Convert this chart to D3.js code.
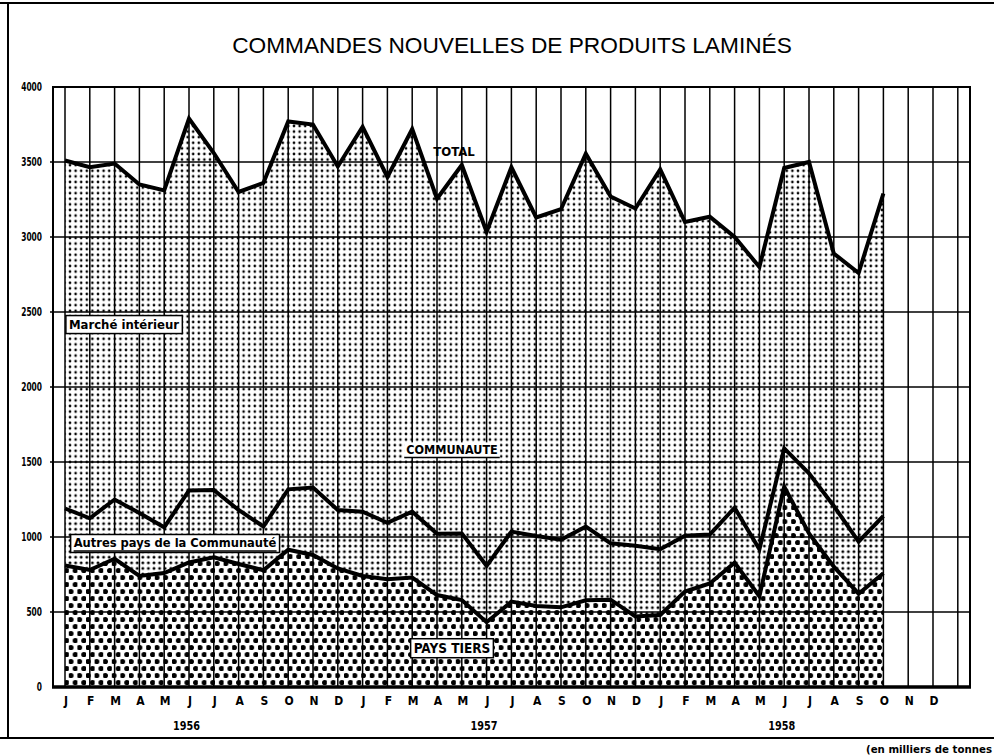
<!DOCTYPE html>
<html>
<head>
<meta charset="utf-8">
<script src="https://cdn.jsdelivr.net/npm/d3@7"></script>
<style>
  body { margin: 0; background: #fff; }
  svg { display: block; }
  text { font-family: "DejaVu Sans Condensed", "Liberation Sans", sans-serif; fill: #000; }
</style>
</head>
<body>
<div id="container"></div>
<script>
// month letters, repeated for each year
const months = ["J", "F", "M", "A", "M", "J", "J", "A", "S", "O", "N", "D"];
const years = ["1956", "1957", "1958"];
const yTicks = [0, 500, 1000, 1500, 2000, 2500, 3000, 3500, 4000];

// thousand tonnes, Jan 1956 -> Oct 1958 (cumulative lines as drawn)
const total = [3510, 3465, 3490, 3350, 3310, 3790, 3560, 3300, 3360, 3770, 3750, 3470,
               3735, 3400, 3720, 3255, 3480, 3035, 3465, 3130, 3185, 3555, 3270, 3190,
               3450, 3100, 3135, 3000, 2800, 3460, 3500, 2890, 2760, 3290];
const communaute = [1190, 1125, 1250, 1160, 1065, 1310, 1313, 1180, 1070, 1318, 1330, 1180,
                    1169, 1094, 1169, 1022, 1024, 808, 1036, 1007, 982, 1069, 958, 942,
                    918, 1008, 1016, 1195, 918, 1591, 1424, 1207, 969, 1140];
const paysTiers = [810, 780, 855, 740, 760, 830, 865, 820, 778, 915, 880, 790,
                   740, 718, 730, 613, 580, 432, 569, 540, 531, 578, 582, 470,
                   480, 636, 690, 829, 605, 1336, 1024, 802, 622, 758];

const W = 994, H = 756;

let svg = d3.select("#container")
  .append("svg")
  .attr("width", W)
  .attr("height", H);

let x = d3.scaleLinear().domain([0, 36]).range([65, 957.8]);
let y = d3.scaleLinear().domain([0, 4000]).range([687, 87]);

let plotLeft = 53, plotRight = 970;

// dot screens
let defs = svg.append("defs");

let fine = defs.append("pattern")
  .attr("id", "fine")
  .attr("patternUnits", "userSpaceOnUse")
  .attr("width", 5.6).attr("height", 5.6);
fine.append("circle").attr("cx", 2.8).attr("cy", 2.8).attr("r", 1.3).attr("fill", "#000");

let fine2 = defs.append("pattern")
  .attr("id", "fine2")
  .attr("patternUnits", "userSpaceOnUse")
  .attr("width", 5.6).attr("height", 5.6);
fine2.append("circle").attr("cx", 2.8).attr("cy", 2.8).attr("r", 1.45).attr("fill", "#000");

let coarse = defs.append("pattern")
  .attr("id", "coarse")
  .attr("patternUnits", "userSpaceOnUse")
  .attr("width", 8.6).attr("height", 14);
coarse.append("circle").attr("cx", 2.15).attr("cy", 3.5).attr("r", 2.6).attr("fill", "#000");
coarse.append("circle").attr("cx", 6.45).attr("cy", 10.5).attr("r", 2.6).attr("fill", "#000");

// outer frame
let frame = svg.append("g").attr("stroke", "#000").attr("fill", "none");
frame.append("line").attr("x1", 0).attr("x2", W).attr("y1", 3).attr("y2", 3).attr("stroke-width", 2);
frame.append("line").attr("x1", 8).attr("x2", 8).attr("y1", 3).attr("y2", 739).attr("stroke-width", 2);
frame.append("line").attr("x1", 0).attr("x2", W).attr("y1", 738).attr("y2", 738).attr("stroke-width", 2);

// title
svg.append("text")
  .attr("x", 512)
  .attr("y", 53)
  .attr("text-anchor", "middle")
  .style("font-family", "'Liberation Sans', Arial, sans-serif")
  .style("font-size", "22.7px")
  .text("COMMANDES NOUVELLES DE PRODUITS LAMINÉS");

// stacked bands
let band = function(lo, hi) {
  return d3.area()
    .x(function(d, i) { return x(i); })
    .y0(function(d, i) { return y(lo(i)); })
    .y1(function(d, i) { return y(hi(i)); });
};

let bands = svg.append("g").attr("class", "bands");

bands.append("path")
  .attr("d", band(function(i) { return communaute[i]; }, function(i) { return total[i]; })(total))
  .attr("fill", "url(#fine)");

bands.append("path")
  .attr("d", band(function(i) { return paysTiers[i]; }, function(i) { return communaute[i]; })(total))
  .attr("fill", "url(#fine2)");

bands.append("path")
  .attr("d", band(function(i) { return 0; }, function(i) { return paysTiers[i]; })(total))
  .attr("fill", "url(#coarse)");

// grid
let grid = svg.append("g").attr("stroke", "#000");

grid.selectAll("line.v")
  .data(d3.range(0, 37))
  .enter().append("line")
  .attr("class", "v")
  .attr("x1", function(d) { return x(d); })
  .attr("x2", function(d) { return x(d); })
  .attr("y1", y(4000))
  .attr("y2", y(0))
  .attr("stroke-width", 1.5);

grid.selectAll("line.h")
  .data(yTicks.slice(1, -1))
  .enter().append("line")
  .attr("class", "h")
  .attr("x1", plotLeft - 3)
  .attr("x2", plotRight)
  .attr("y1", function(d) { return y(d); })
  .attr("y2", function(d) { return y(d); })
  .attr("stroke-width", 1.5);

// plot border
svg.append("rect")
  .attr("x", plotLeft)
  .attr("y", y(4000))
  .attr("width", plotRight - plotLeft)
  .attr("height", y(0) - y(4000))
  .attr("fill", "none")
  .attr("stroke", "#000")
  .attr("stroke-width", 2);

svg.append("line")
  .attr("x1", plotLeft - 1).attr("x2", plotRight + 1)
  .attr("y1", y(0)).attr("y2", y(0))
  .attr("stroke", "#000")
  .attr("stroke-width", 3.5);

// series lines
let line = d3.line()
  .x(function(d, i) { return x(i); })
  .y(function(d) { return y(d); });

svg.append("g")
  .attr("fill", "none")
  .attr("stroke", "#000")
  .attr("stroke-width", 4)
  .attr("stroke-linejoin", "miter")
  .attr("stroke-miterlimit", 3)
  .selectAll("path")
  .data([total, communaute, paysTiers])
  .enter().append("path")
  .attr("d", line);

// y axis labels (narrow figures as in the print)
svg.append("g")
  .selectAll("text")
  .data(yTicks)
  .enter().append("text")
  .attr("x", 42)
  .attr("y", function(d) { return y(d); })
  .attr("dy", "0.35em")
  .attr("text-anchor", "end")
  .attr("textLength", function(d) { return String(d).length * 5.2; })
  .attr("lengthAdjust", "spacingAndGlyphs")
  .style("font-size", "11.5px")
  .style("font-weight", "bold")
  .text(function(d) { return d; });

// month + year labels
let monthLabels = years.flatMap(function() { return months; });

svg.append("g")
  .selectAll("text")
  .data(monthLabels)
  .enter().append("text")
  .attr("x", function(d, i) { return x(i) + 1; })
  .attr("y", 704.5)
  .attr("text-anchor", "middle")
  .style("font-size", "12px")
  .style("font-weight", "bold")
  .text(function(d) { return d; });

svg.append("g")
  .selectAll("text")
  .data(years)
  .enter().append("text")
  .attr("x", function(d, i) { return x(i * 12 + 4.9); })
  .attr("y", 730)
  .attr("text-anchor", "middle")
  .attr("textLength", 27)
  .attr("lengthAdjust", "spacingAndGlyphs")
  .style("font-size", "13px")
  .style("font-weight", "bold")
  .text(function(d) { return d; });

// labels on the chart
function boxLabel(txt, cx, cy, size, underline) {
  let g = svg.append("g");
  let t = g.append("text")
    .attr("x", cx)
    .attr("y", cy)
    .attr("dy", "0.35em")
    .attr("text-anchor", "middle")
    .style("font-size", size + "px")
    .style("font-weight", "bold")
    .text(txt);
  let bb = t.node().getBBox();
  g.insert("rect", "text")
    .attr("x", bb.x - 3)
    .attr("y", bb.y - 1)
    .attr("width", bb.width + 6)
    .attr("height", bb.height + 3)
    .attr("fill", "#fff")
    .attr("stroke", "#000")
    .attr("stroke-width", 1.5);
  if (underline) {
    g.append("line")
      .attr("x1", bb.x).attr("x2", bb.x + bb.width)
      .attr("y1", bb.y + bb.height + 0.5).attr("y2", bb.y + bb.height + 0.5)
      .attr("stroke", "#000").attr("stroke-width", 1.5);
  }
  return g;
}

boxLabel("Marché intérieur", 124, 324, 13, false);
boxLabel("Autres pays de la Communauté", 175, 543, 12.8, true);
boxLabel("PAYS TIERS", 452, 648, 13.5, false);

// plain labels
svg.append("text")
  .attr("x", 454).attr("y", 151)
  .attr("dy", "0.35em")
  .attr("text-anchor", "middle")
  .style("font-size", "13px")
  .style("font-weight", "bold")
  .text("TOTAL");

let comm = svg.append("g");
let ct = comm.append("text")
  .attr("x", 452).attr("y", 450)
  .attr("dy", "0.35em")
  .attr("text-anchor", "middle")
  .style("font-size", "12.5px")
  .style("font-weight", "bold")
  .text("COMMUNAUTE");
let cb = ct.node().getBBox();
comm.insert("rect", "text")
  .attr("x", cb.x - 2).attr("y", cb.y)
  .attr("width", cb.width + 4).attr("height", cb.height)
  .attr("fill", "#fff");
comm.append("line")
  .attr("x1", cb.x - 2).attr("x2", cb.x + cb.width + 2)
  .attr("y1", cb.y + cb.height).attr("y2", cb.y + cb.height)
  .attr("stroke", "#000").attr("stroke-width", 1.5);

// units note, cut by the page edge as in the print
svg.append("text")
  .attr("x", 866)
  .attr("y", 753)
  .attr("textLength", 126)
  .attr("lengthAdjust", "spacingAndGlyphs")
  .style("font-size", "10px")
  .style("font-weight", "bold")
  .text("(en milliers de tonnes");
</script>
</body>
</html>
